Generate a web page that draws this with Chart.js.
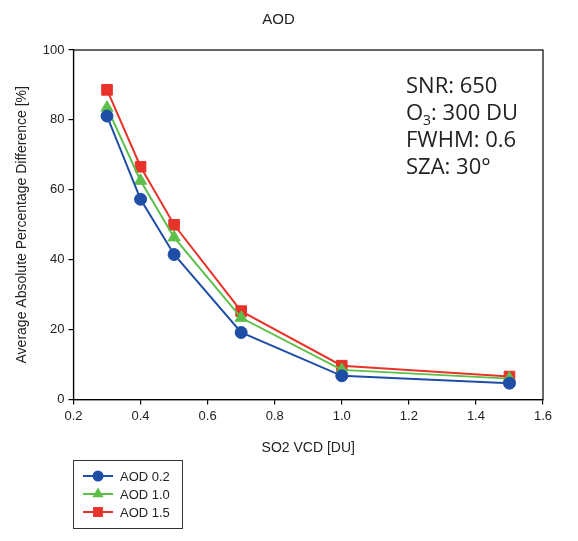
<!DOCTYPE html>
<html>
<head>
<meta charset="utf-8">
<script src="https://cdn.jsdelivr.net/npm/chart.js@4.4.1/dist/chart.umd.min.js"></script>
<style>
html,body{margin:0;padding:0;background:#fff;}
#wrap{width:578px;height:541px;position:relative;}
</style>
</head>
<body>
<div id="wrap"><canvas id="c" width="578" height="541"></canvas></div>
<script>
const so2Vcd = [0.3, 0.4, 0.5, 0.7, 1.0, 1.5];
const seriesNames = ['AOD 0.2', 'AOD 1.0', 'AOD 1.5'];
const aod02 = [81.1, 57.3, 41.5, 19.2, 6.8, 4.7];
const aod10 = [83.5, 62.6, 46.4, 23.4, 8.5, 6.0];
const aod15 = [88.6, 66.6, 50.0, 25.3, 9.7, 6.6];
const yTicks = [0, 20, 40, 60, 80, 100];
const xTicks = [0.2, 0.4, 0.6, 0.8, 1.0, 1.2, 1.4, 1.6];
const infoLines = ['SNR: 650', 'O3: 300 DU', 'FWHM: 0.6', 'SZA: 30°'];

const colors = ['#1f4ea6', '#5cbf4a', '#e8332a'];
const styles = ['circle', 'triangle', 'rect'];
const radii = [6, 7, 7.5];

const toXY = arr => arr.map((v, i) => ({x: so2Vcd[i], y: v}));

const datasets = [aod02, aod10, aod15].map((arr, k) => ({
  label: seriesNames[k],
  data: toXY(arr),
  borderColor: colors[k],
  backgroundColor: colors[k],
  pointBackgroundColor: colors[k],
  pointBorderColor: colors[k],
  pointStyle: styles[k],
  pointRadius: radii[k],
  pointBorderWidth: 1,
  borderWidth: 2,
  tension: 0,
  showLine: true
}));

const framePlugin = {
  id: 'frame',
  afterDraw(chart) {
    const ctx = chart.ctx;
    const a = chart.chartArea;
    ctx.save();
    ctx.strokeStyle = '#000';
    ctx.lineWidth = 1.2;
    ctx.strokeRect(a.left, a.top, a.right - a.left, a.bottom - a.top);

    ctx.fillStyle = '#222';
    ctx.textBaseline = 'alphabetic';
    ctx.textAlign = 'left';
    const fs = 22;
    const x0 = 406;
    const ys = [93, 120, 147, 174];
    infoLines.forEach((t, i) => {
      ctx.font = fs + 'px "Open Sans", "Noto Sans", sans-serif';
      if (t.startsWith('O3')) {
        ctx.fillText('O', x0, ys[i]);
        const w = ctx.measureText('O').width;
        ctx.font = '14px "Open Sans", "Noto Sans", sans-serif';
        ctx.fillText('3', x0 + w, ys[i] + 5);
        const w3 = ctx.measureText('3').width;
        ctx.font = fs + 'px "Open Sans", "Noto Sans", sans-serif';
        ctx.fillText(t.slice(2), x0 + w + w3, ys[i]);
      } else {
        ctx.fillText(t, x0, ys[i]);
      }
    });

    const lx = 73, ly = 460, lw = 109, lh = 68;
    ctx.strokeStyle = '#333';
    ctx.lineWidth = 1;
    ctx.strokeRect(lx + 0.5, ly + 0.5, lw, lh);
    const rowY = [476, 494, 512];
    seriesNames.forEach((name, k) => {
      const y = rowY[k];
      ctx.strokeStyle = colors[k];
      ctx.lineWidth = 2;
      ctx.beginPath();
      ctx.moveTo(83, y);
      ctx.lineTo(113, y);
      ctx.stroke();
      ctx.fillStyle = colors[k];
      Chart.helpers.drawPoint(ctx, {pointStyle: styles[k], radius: radii[k] - 0.5, borderWidth: 0}, 98, y);
      ctx.fillStyle = '#222';
      ctx.font = '13px "Liberation Sans", Arial, sans-serif';
      ctx.textBaseline = 'middle';
      ctx.fillText(name, 120, y + 1);
    });
    ctx.restore();
  }
};

new Chart(document.getElementById('c'), {
  type: 'scatter',
  data: {datasets},
  options: {
    responsive: false,
    animation: false,
    layout: {padding: {left: 14, right: 35, top: 6, bottom: 84}},
    plugins: {
      legend: {display: false},
      tooltip: {enabled: false},
      title: {
        display: true,
        text: 'AOD',
        color: '#222',
        font: {family: '"Liberation Sans", Arial, sans-serif', size: 15, weight: 'normal'},
        padding: {top: 5, bottom: 21}
      }
    },
    scales: {
      x: {
        type: 'linear',
        min: 0.2, max: 1.6,
        afterBuildTicks: s => { s.ticks = xTicks.map(v => ({value: v})); },
        ticks: {
          color: '#222',
          font: {family: '"Liberation Sans", Arial, sans-serif', size: 13},
          callback: v => Number(v).toFixed(1),
          padding: 4
        },
        grid: {drawOnChartArea: false, drawTicks: true, tickLength: 5, color: '#000', lineWidth: 1.2},
        border: {display: true, color: '#000', width: 1.2},
        title: {
          display: true, text: 'SO2 VCD [DU]', color: '#222',
          font: {family: '"Liberation Sans", Arial, sans-serif', size: 14},
          padding: {top: 12, bottom: 0}
        }
      },
      y: {
        type: 'linear',
        min: 0, max: 100,
        afterBuildTicks: s => { s.ticks = yTicks.map(v => ({value: v})); },
        ticks: {
          color: '#222',
          font: {family: '"Liberation Sans", Arial, sans-serif', size: 13},
          padding: 4
        },
        grid: {drawOnChartArea: false, drawTicks: true, tickLength: 5, color: '#000', lineWidth: 1.2},
        border: {display: true, color: '#000', width: 1.2},
        title: {
          display: true, text: 'Average Absolute Percentage Difference [%]', color: '#222',
          font: {family: '"Liberation Sans", Arial, sans-serif', size: 14},
          padding: {top: 0, bottom: 8}
        }
      }
    }
  },
  plugins: [framePlugin]
});
</script>
</body>
</html>
